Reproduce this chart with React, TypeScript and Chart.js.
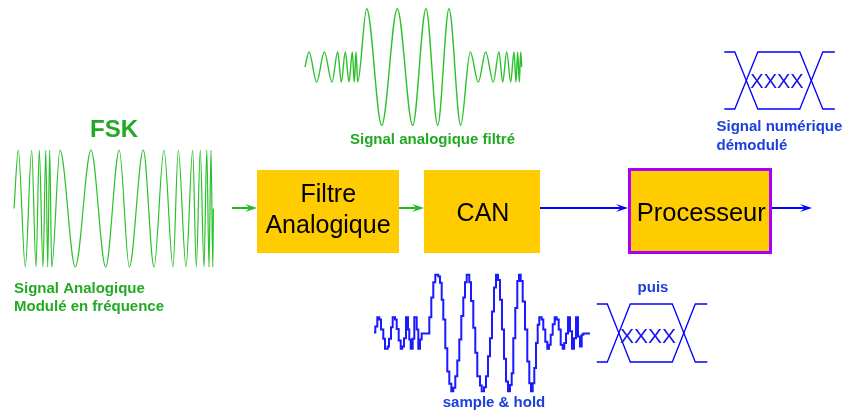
import React, { useEffect, useRef } from "react";
import { Chart, registerables } from "chart.js";

Chart.register(...registerables);

const W = 846;
const H = 412;

// ---- Data ----
// FSK modulated signal: extremum times and normalised levels
const fskTimes = [0, 4.3, 11.3, 17.7, 22, 25.3, 29, 31.8, 33.7, 35.7, 37.7, 46, 61.3, 77, 91.7, 105.3, 115.3, 129.3, 140, 150, 159, 164.3, 172, 178.7, 182.3, 186.3, 190, 192.8, 195, 197, 198.8, 199.4];
const fskLevels = [0, 1, -1, 1, -1, 1, -1, 1, -1, 1, -1, 1, -1, 1, -1, 1, -1, 1, -1, 1, -1, 1, -1, 1, -1, 1, -1, 1, -1, 1, -1, 0];

// Filtered analogue signal
const filtTimes = [0, 4, 11.7, 19.3, 27, 32.7, 36.3, 40.3, 44, 47.3, 49.3, 51, 52.7, 61.7, 76.7, 92.3, 107.7, 121, 132.7, 144, 155.7, 165.3, 173.3, 180.7, 188.3, 194, 197.7, 201.7, 205.7, 209, 211, 212.7, 214.3, 215.7, 216.7];
const filtLevels = [0, 0.26, -0.26, 0.26, -0.26, 0.26, -0.26, 0.26, -0.26, 0.26, -0.26, 0.26, -0.26, 1, -1, 1, -1, 1, -1, 1, -1, 0.26, -0.26, 0.26, -0.26, 0.26, -0.26, 0.26, -0.26, 0.26, -0.26, 0.26, -0.26, 0.26, 0];

// Sample & hold signal (held levels)
const shTimes = [0, 1.3, 3.3, 5.3, 7, 9.3, 11, 13.7, 15, 17, 18.7, 21, 22.7, 24.7, 26.7, 28.3, 30, 32, 34, 35.3, 36.7, 38.7, 40.3, 42.7, 44.3, 46, 47.7, 55.3, 57.3, 59.3, 61.3, 64.3, 66, 67.7, 69.3, 71.3, 73.3, 75.3, 77.3, 79.3, 81.3, 83.3, 85.3, 87.3, 89.3, 91, 92.7, 95.3, 97, 99.3, 101.3, 103.3, 106, 107.7, 110, 112, 114, 116, 118, 120, 122, 124, 126, 128, 130, 132, 134, 136, 137.7, 139.3, 141.3, 143.3, 145, 146.7, 148.7, 151, 153.3, 155.3, 157, 158.7, 160.3, 162, 163.7, 165.3, 167.7, 169.3, 171.3, 173.3, 175, 176.7, 178.7, 180.7, 182.7, 184.7, 186.7, 188.7, 190.3, 192, 194, 196, 198, 200, 202, 204, 206, 207.7, 209.3, 216];
const shLevels = [0.01, 0.11, 0.27, 0.23, 0.06, -0.1, -0.27, -0.23, -0.1, 0.1, 0.27, 0.23, 0.07, -0.13, -0.27, -0.23, -0.09, 0.27, 0.06, -0.11, -0.27, -0.1, 0.27, 0.06, -0.27, -0.11, -0.01, 0.27, 0.61, 0.87, 1.0, 0.97, 0.86, 0.57, 0.23, -0.26, -0.66, -0.87, -1.0, -0.94, -0.74, -0.47, -0.11, 0.29, 0.61, 0.87, 1.0, 0.87, 0.55, 0.09, -0.34, -0.74, -0.9, -1.0, -0.93, -0.74, -0.4, -0.09, 0.37, 0.78, 1.0, 0.91, 0.57, 0.06, -0.44, -0.83, -1.0, -0.89, -0.69, -0.09, 0.43, 0.89, 1.0, 0.89, 0.54, 0.06, -0.49, -0.86, -1.0, -0.86, -0.6, -0.17, 0.14, 0.27, 0.23, 0.06, -0.15, -0.27, -0.2, -0.03, 0.15, 0.27, 0.23, 0.06, -0.2, -0.27, -0.17, -0.01, 0.27, 0.03, -0.27, -0.09, 0.27, -0.06, -0.23, -0.03, -0.01, -0.01];

// Digital "eye" symbol
const eyeTimes = [0, 10.5, 33.5, 75.5, 98.5, 110.5];
const eyeUpper = [1, 1, -1, -1, 1, 1];
const eyeLower = [-1, -1, 1, 1, -1, -1];

// Texts
const blockTexts = [["Filtre", "Analogique"], ["CAN"], ["Processeur"]];
const fskTitle = "FSK";
const fskCaption = ["Signal Analogique", "Modulé en fréquence"];
const filtCaption = "Signal analogique filtré";
const shCaption = "sample & hold";
const thenCaption = "puis";
const outCaption = ["Signal numérique", "démodulé"];
const eyeText = "XXXX";

// ---- Layout ----
const GREEN_TXT = "#22aa22";
const GREEN_LINE = "#2cc12c";
const BLUE = "#0000ff";
const BLUE_TXT = "#1a3fdc";
const FONT = '"Liberation Sans", Arial, Helvetica, sans-serif';

function fitX(v0: number, v1: number, p0: number, p1: number) {
  const k = (p1 - p0) / (v1 - v0);
  const min = v0 - p0 / k;
  return { min, max: min + W / k };
}
function fitY(v0: number, v1: number, p0: number, p1: number) {
  const s = (v0 - v1) / (p1 - p0);
  const max = v0 + p0 * s;
  return { min: max - H * s, max };
}

const boxes = [
  { x0: 257, y0: 170, x1: 399, y1: 253, border: null as string | null },
  { x0: 424, y0: 170, x1: 540, y1: 253, border: null as string | null },
  { x0: 628, y0: 168, x1: 772, y1: 254, border: "#a800ff" },
];
const arrows = [
  { x0: 232, x1: 257, y: 208, color: "#22bb22", w: 2 },
  { x0: 399, x1: 424, y: 208, color: "#22bb22", w: 2 },
  { x0: 540, x1: 628, y: 208, color: BLUE, w: 2 },
  { x0: 772, x1: 812, y: 208, color: BLUE, w: 2 },
];
const texts = [
  { t: fskTitle, x: 114, y: 137, font: `bold 24px ${FONT}`, color: GREEN_TXT, align: "center" },
  { t: fskCaption[0], x: 14, y: 292.5, font: `bold 15px ${FONT}`, color: GREEN_TXT, align: "left" },
  { t: fskCaption[1], x: 14, y: 310.5, font: `bold 15px ${FONT}`, color: GREEN_TXT, align: "left" },
  { t: filtCaption, x: 432.5, y: 144, font: `bold 15px ${FONT}`, color: GREEN_TXT, align: "center" },
  { t: shCaption, x: 494, y: 406.5, font: `bold 15px ${FONT}`, color: BLUE_TXT, align: "center" },
  { t: thenCaption, x: 653, y: 291.5, font: `bold 15px ${FONT}`, color: BLUE_TXT, align: "center" },
  { t: outCaption[0], x: 716.5, y: 130.7, font: `bold 15px ${FONT}`, color: BLUE_TXT, align: "left" },
  { t: outCaption[1], x: 716.5, y: 149.5, font: `bold 15px ${FONT}`, color: BLUE_TXT, align: "left" },
  { t: eyeText, x: 777, y: 88.3, font: `20px ${FONT}`, color: "#1515e8", align: "center" },
  { t: eyeText, x: 648, y: 343.3, font: `21px ${FONT}`, color: "#1515e8", align: "center" },
  { t: blockTexts[0][0], x: 328.3, y: 201.7, font: `25px ${FONT}`, color: "#000", align: "center" },
  { t: blockTexts[0][1], x: 328, y: 233.3, font: `25px ${FONT}`, color: "#000", align: "center" },
  { t: blockTexts[1][0], x: 483, y: 221, font: `25px ${FONT}`, color: "#000", align: "center" },
  { t: blockTexts[2][0], x: 701.3, y: 221, font: `25.5px ${FONT}`, color: "#000", align: "center" },
];

function pts(xs: number[], ys: number[]) {
  return xs.map((x, i) => ({ x, y: ys[i] }));
}

const diagramPlugin = {
  id: "diagram",
  afterDatasetsDraw(chart: any) {
    const ctx = chart.ctx as CanvasRenderingContext2D;
    const xs = chart.scales.xd;
    const ys = chart.scales.yd;
    const X = (v: number) => xs.getPixelForValue(v);
    const Y = (v: number) => ys.getPixelForValue(v);
    ctx.save();
    boxes.forEach((b) => {
      const x = X(b.x0), y = Y(b.y0), w = X(b.x1) - x, h = Y(b.y1) - y;
      ctx.fillStyle = "#ffcc00";
      ctx.fillRect(x, y, w, h);
      if (b.border) {
        ctx.strokeStyle = b.border;
        ctx.lineWidth = 3;
        ctx.strokeRect(x + 1.5, y + 1.5, w - 3, h - 3);
      }
    });
    arrows.forEach((a) => {
      const x0 = X(a.x0), x1 = X(a.x1), y = Y(a.y);
      const L = 12, hw = 4;
      ctx.strokeStyle = a.color;
      ctx.lineWidth = a.w;
      ctx.beginPath();
      ctx.moveTo(x0, y);
      ctx.lineTo(x1 - L * 0.6, y);
      ctx.stroke();
      ctx.fillStyle = a.color;
      ctx.beginPath();
      ctx.moveTo(x1, y);
      ctx.lineTo(x1 - L, y - hw);
      ctx.lineTo(x1 - L * 0.6, y);
      ctx.lineTo(x1 - L, y + hw);
      ctx.closePath();
      ctx.fill();
    });
    ctx.textBaseline = "alphabetic";
    texts.forEach((t) => {
      ctx.font = t.font;
      ctx.fillStyle = t.color;
      ctx.textAlign = t.align as CanvasTextAlign;
      ctx.fillText(t.t, X(t.x), Y(t.y));
    });
    ctx.restore();
  },
};

export default function App() {
  const ref = useRef<HTMLCanvasElement | null>(null);
  useEffect(() => {
    if (!ref.current) return;
    const lin = (axis: "x" | "y", r: { min: number; max: number }, extra: any = {}) => ({
      type: "linear",
      axis,
      display: false,
      min: r.min,
      max: r.max,
      ...extra,
    });
    const wave = (label: string, data: any[], xid: string, yid: string, color: string, width: number, extra: any = {}) => ({
      label,
      data,
      xAxisID: xid,
      yAxisID: yid,
      showLine: true,
      borderColor: color,
      borderWidth: width,
      pointRadius: 0,
      fill: false,
      clip: false,
      ...extra,
    });
    const chart = new Chart(ref.current, {
      type: "scatter",
      data: {
        datasets: [
          wave("FSK", pts(fskTimes, fskLevels), "xF", "yF", GREEN_LINE, 1.2, { cubicInterpolationMode: "monotone" }),
          wave("Filtré", pts(filtTimes, filtLevels), "xG", "yG", GREEN_LINE, 1.4, { cubicInterpolationMode: "monotone" }),
          wave("Sample & hold", pts(shTimes, shLevels), "xS", "yS", "#1a1aff", 2, { stepped: "before" }),
          wave("Eye1a", pts(eyeTimes, eyeUpper), "xE1", "yE1", BLUE, 1.3),
          wave("Eye1b", pts(eyeTimes, eyeLower), "xE1", "yE1", BLUE, 1.3),
          wave("Eye2a", pts(eyeTimes, eyeUpper), "xE2", "yE2", BLUE, 1.3),
          wave("Eye2b", pts(eyeTimes, eyeLower), "xE2", "yE2", BLUE, 1.3),
        ] as any,
      },
      options: {
        animation: false,
        responsive: false,
        devicePixelRatio: 1,
        layout: { padding: 0 },
        plugins: { legend: { display: false }, tooltip: { enabled: false }, title: { display: false } },
        events: [],
        scales: {
          xd: lin("x", { min: 0, max: W }),
          yd: lin("y", { min: 0, max: H }, { reverse: true }),
          xF: lin("x", fitX(0, 199.4, 14, 213.4)),
          yF: lin("y", fitY(1, -1, 150, 267)),
          xG: lin("x", fitX(0, 216.7, 305, 521.7)),
          yG: lin("y", fitY(1, -1, 8.7, 125.3)),
          xS: lin("x", fitX(0, 216, 374, 590)),
          yS: lin("y", fitY(1, -1, 274.7, 391.3)),
          xE1: lin("x", fitX(0, 110.5, 724.3, 834.8)),
          yE1: lin("y", fitY(1, -1, 52, 109)),
          xE2: lin("x", fitX(0, 110.5, 596.8, 707.3)),
          yE2: lin("y", fitY(1, -1, 304, 362)),
        } as any,
      },
      plugins: [diagramPlugin],
    });
    return () => chart.destroy();
  }, []);
  return (
    <div style={{ position: "fixed", left: 0, top: 0, width: W, height: H, background: "#fff" }}>
      <canvas ref={ref} width={W} height={H} style={{ display: "block", width: W, height: H }} />
    </div>
  );
}
